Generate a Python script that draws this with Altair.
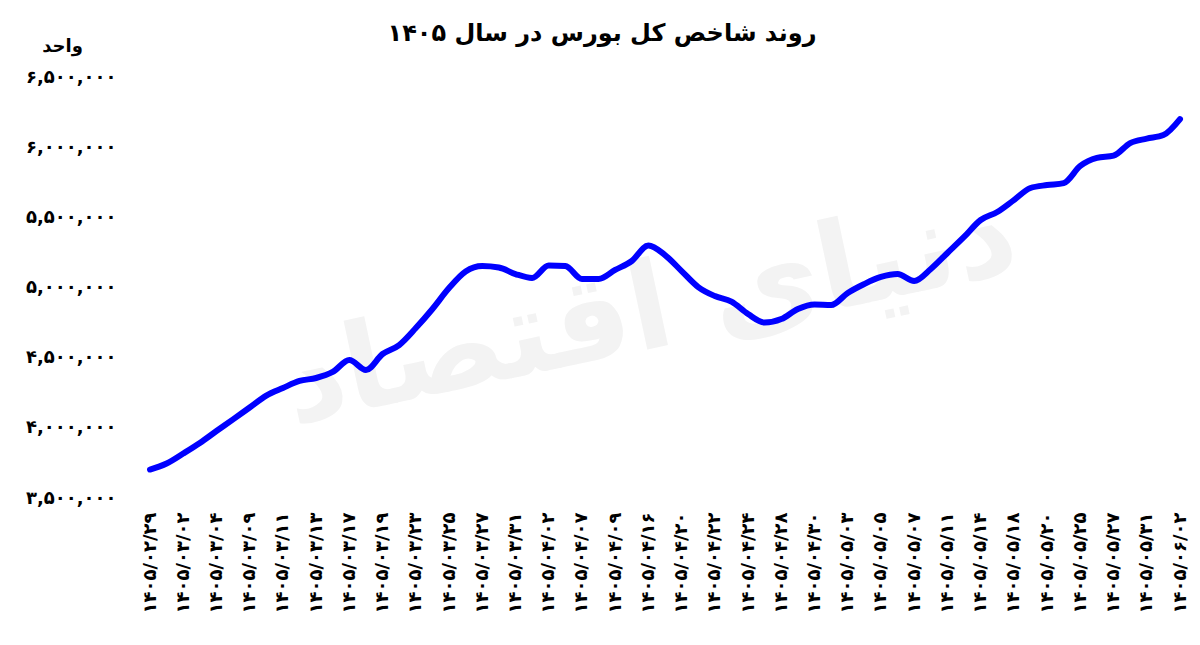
import altair as alt
import pandas as pd

FONT = "DejaVu Sans"
FA_DIGITS = str.maketrans("0123456789", "۰۱۲۳۴۵۶۷۸۹")

# one label every second point on the x axis
date_labels = [
    "1405/02/29", "1405/03/02", "1405/03/04", "1405/03/09", "1405/03/11",
    "1405/03/13", "1405/03/17", "1405/03/19", "1405/03/23", "1405/03/25",
    "1405/03/27", "1405/03/31", "1405/04/02", "1405/04/07", "1405/04/09",
    "1405/04/16", "1405/04/20", "1405/04/22", "1405/04/24", "1405/04/28",
    "1405/04/30", "1405/05/03", "1405/05/05", "1405/05/07", "1405/05/11",
    "1405/05/14", "1405/05/18", "1405/05/20", "1405/05/25", "1405/05/27",
    "1405/05/31", "1405/06/02",
]

index_values = [
    3703000, 3746000, 3817000, 3892000, 3977000, 4060000, 4145000, 4230000,
    4284000, 4334000, 4355000, 4398000, 4483000, 4412000, 4526000, 4590000,
    4711000, 4847000, 4996000, 5114000, 5153000, 5142000, 5096000, 5068000,
    5157000, 5153000, 5060000, 5060000, 5125000, 5189000, 5299000, 5231000,
    5117000, 5003000, 4939000, 4899000, 4811000, 4750000, 4775000, 4847000,
    4879000, 4875000, 4961000, 5025000, 5075000, 5096000, 5046000, 5132000,
    5246000, 5360000, 5481000, 5538000, 5623000, 5709000, 5730000, 5744000,
    5866000, 5923000, 5939000, 6029000, 6061000, 6086000, 6200000,
]

y_ticks = [3500000, 4000000, 4500000, 5000000, 5500000, 6000000, 6500000]

title_text = "روند شاخص کل بورس در سال ۱۴۰۵"
unit_text = "واحد"
watermark_text = "دنیای اقتصاد"

fa_dates = [d.translate(FA_DIGITS) for d in date_labels]
fa_ticks = [f"{v:,}".translate(FA_DIGITS) for v in y_ticks]

df = pd.DataFrame({"i": list(range(len(index_values))), "value": index_values})

x_label_expr = "[" + ",".join(f"'{d}'" for d in fa_dates) + "][round(datum.value / 2)]"
y_label_expr = "[" + ",".join(f"'{t}'" for t in fa_ticks) + "][round((datum.value - 3500000) / 500000)]"

base = alt.Chart(df).encode(
    x=alt.X(
        "i:Q",
        scale=alt.Scale(domain=[0, len(index_values) - 1], nice=False, zero=False),
        axis=alt.Axis(
            values=list(range(0, len(index_values), 2)),
            labelExpr=x_label_expr,
            labelAngle=270,
            labelFont=FONT,
            labelFontSize=18,
            labelFontWeight="bold",
            labelColor="#000",
            labelPadding=14,
            labelOverlap=False,
            labelFlush=False,
            ticks=False,
            domain=False,
            grid=False,
            title=None,
        ),
    ),
    y=alt.Y(
        "value:Q",
        scale=alt.Scale(domain=[3500000, 6500000], nice=False, zero=False),
        axis=alt.Axis(
            values=y_ticks,
            labelExpr=y_label_expr,
            labelFont=FONT,
            labelFontSize=18,
            labelFontWeight="bold",
            labelColor="#000",
            labelPadding=34,
            labelFlush=False,
            ticks=False,
            domain=False,
            grid=False,
            title=unit_text,
            titleAngle=0,
            titleFont=FONT,
            titleFontSize=18,
            titleFontWeight="bold",
            titleColor="#000",
            titleAlign="center",
            titleBaseline="middle",
            titleX=-88,
            titleY=-31,
        ),
    ),
)

watermark = alt.Chart(pd.DataFrame({"t": [watermark_text]})).mark_text(
    font=FONT, fontSize=120, fontWeight="bold", color="#f3f3f3", angle=348
).encode(x=alt.value(500), y=alt.value(235), text="t:N")

line = base.mark_line(
    color="#0000ff", strokeWidth=6, interpolate="monotone", strokeCap="round"
)

chart = alt.layer(watermark, line).properties(
    width=1030,
    height=421,
    padding={"left": 142, "top": 69, "right": 12, "bottom": 130},
    autosize=alt.AutoSizeParams(type="none"),
    title=alt.TitleParams(
        title_text, font=FONT, fontSize=24, fontWeight="bold", color="#000",
        anchor="middle", frame="group", offset=4, dx=-63, dy=13,
    ),
).configure_view(stroke=None)

chart.save("out.html", embed_options={"renderer": "svg", "actions": False})
